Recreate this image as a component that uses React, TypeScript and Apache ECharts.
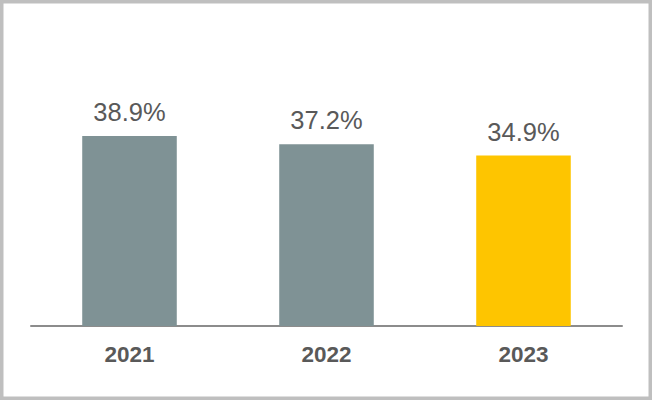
import React, { useEffect, useRef } from "react";
import * as echarts from "echarts";

const categories = ["2021", "2022", "2023"];
const values = [38.9, 37.2, 34.9];
const barColors = ["#7f9295", "#7f9295", "#fec500"];

export default function App() {
  const ref = useRef<HTMLDivElement>(null);
  useEffect(() => {
    if (!ref.current) return;
    const chart = echarts.init(ref.current, null, { renderer: "svg" });
    chart.setOption({
      animation: false,
      backgroundColor: "#ffffff",
      graphic: [
        {
          type: "rect",
          shape: { x: 1.75, y: 1.75, width: 648.5, height: 396.5 },
          style: { fill: "none", stroke: "#bfbfbf", lineWidth: 3.5 },
          silent: true,
        },
      ],
      grid: { left: 31, right: 30, top: 81.8, bottom: 74 },
      xAxis: {
        type: "category",
        data: categories,
        axisLine: { show: true, lineStyle: { color: "#8c8c8c", width: 2 } },
        axisTick: { show: false },
        axisLabel: {
          color: "#595959",
          fontSize: 22.5,
          fontWeight: "bold",
          fontFamily: "Liberation Sans, Arial, sans-serif",
          margin: 17,
        },
      },
      yAxis: {
        type: "value",
        min: 0,
        max: 50,
        show: false,
        splitLine: { show: false },
      },
      series: [
        {
          type: "bar",
          barWidth: "48%",
          data: values.map((v, i) => ({ value: v, itemStyle: { color: barColors[i] } })),
          label: {
            show: true,
            position: "top",
            distance: 11,
            formatter: (p: any) => p.value.toFixed(1) + "%",
            color: "#595959",
            fontSize: 25.5,
            fontFamily: "Liberation Sans, Arial, sans-serif",
          },
        },
      ],
    });
    return () => chart.dispose();
  }, []);
  return (
    <div
      ref={ref}
      style={{ position: "fixed", left: 0, top: 0, width: 652, height: 400 }}
    />
  );
}
